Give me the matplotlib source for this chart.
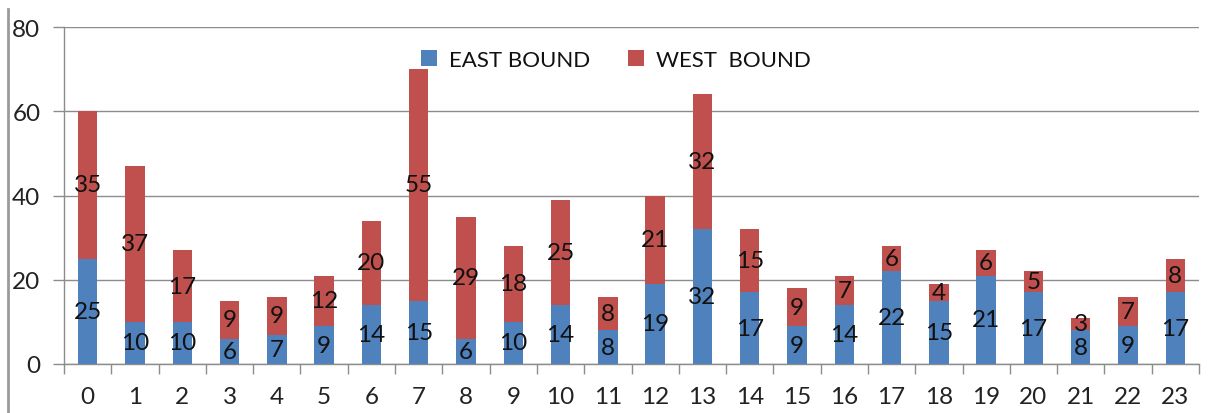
import matplotlib
matplotlib.use("Agg")
import matplotlib.pyplot as plt
from matplotlib.lines import Line2D
import numpy as np

hours = [str(h) for h in range(24)]
east_bound = [25, 10, 10, 6, 7, 9, 14, 15, 6, 10, 14, 8, 19, 32, 17, 9, 14, 22, 15, 21, 17, 8, 9, 17]
west_bound = [35, 37, 17, 9, 9, 12, 20, 55, 29, 18, 25, 8, 21, 32, 15, 9, 7, 6, 4, 6, 5, 3, 7, 8]
y_ticks = [0, 20, 40, 60, 80]

BLUE = "#4F81BD"
RED = "#C0504D"
GRID = "#8C8C8C"
FS = 17.5

plt.rcParams["font.family"] = ["Lato", "DejaVu Sans"]

W, H = 1209, 414
fig = plt.figure(figsize=(W / 100, H / 100), dpi=100)
ax = fig.add_axes([64 / W, 1 - 365 / H, (1199 - 64) / W, (365 - 28) / H])

x = np.arange(len(hours))
bw = 0.41
b1 = ax.bar(x, east_bound, width=bw, color=BLUE, label="EAST BOUND", zorder=3)
b2 = ax.bar(x, west_bound, width=bw, bottom=east_bound, color=RED, label="WEST  BOUND", zorder=3)

for i in range(len(hours)):
    ax.text(x[i], east_bound[i] / 2, str(east_bound[i]), ha="center", va="center",
            fontsize=FS, color="#111111", zorder=4)
    ax.text(x[i], east_bound[i] + west_bound[i] / 2, str(west_bound[i]), ha="center",
            va="center", fontsize=FS, color="#111111", zorder=4)

ax.set_xlim(-0.5, len(hours) - 0.5)
ax.set_ylim(0, 80)
ax.set_yticks(y_ticks)
ax.set_xticks(x)
ax.set_xticklabels(hours)
ax.set_xticks(np.arange(-0.5, len(hours)), minor=True)

ax.yaxis.grid(True, color=GRID, linewidth=1, zorder=0)
ax.set_axisbelow(True)

for s in ("top", "right"):
    ax.spines[s].set_visible(False)
for s in ("left", "bottom"):
    ax.spines[s].set_color(GRID)
    ax.spines[s].set_linewidth(1)

ax.tick_params(axis="y", length=8, width=1, color=GRID, pad=9, labelsize=FS, labelcolor="#222222")
ax.tick_params(axis="x", which="major", length=0, pad=16, labelsize=FS, labelcolor="#222222")
ax.tick_params(axis="x", which="minor", length=7.5, width=1, color=GRID)

fig.legend(handles=[b1, b2], loc="center", bbox_to_anchor=(616 / W, 1 - 61 / H), ncol=2,
           frameon=False, fontsize=16, handlelength=0.7, handleheight=0.7,
           handletextpad=0.55, columnspacing=1.7, labelcolor="#111111")

# frame line on the left edge
fig.lines.append(Line2D([8 / W, 8 / W], [0, 1 - 10 / H], transform=fig.transFigure,
                        color="#9a9a9a", linewidth=2))

fig.savefig("out.png", dpi=100, facecolor="white")
